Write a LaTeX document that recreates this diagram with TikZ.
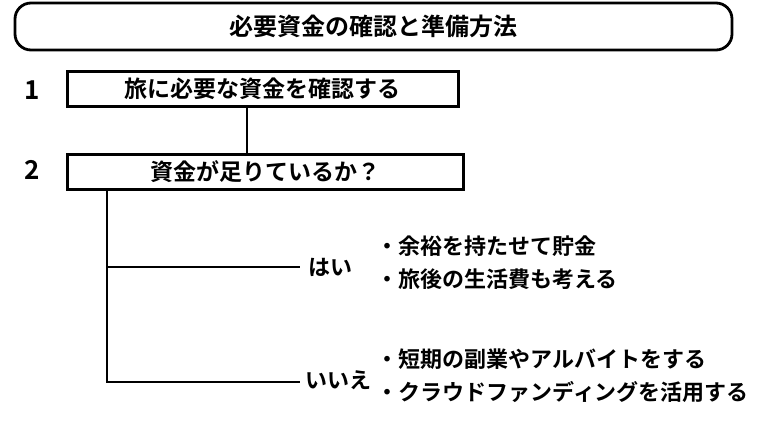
\documentclass[tikz,border=0pt]{standalone}
\usepackage{fontspec}
\setmainfont{Noto Sans CJK JP}[BoldFont={Noto Sans CJK JP Bold}]
\begin{document}
\begin{tikzpicture}[x=1pt,y=-1pt,
  box/.style={draw,line width=2.8pt,minimum height=35pt,inner sep=0pt},
  txt/.style={font=\fontsize{23}{26}\selectfont\bfseries},
  btxt/.style={font=\fontsize{22}{26}\selectfont\bfseries},
  ln/.style={line width=2.8pt}]
\useasboundingbox (0,0) rectangle (760,428);
\node[box,rounded corners=16pt,minimum width=717pt,minimum height=47pt,font=\fontsize{24}{26}\selectfont\bfseries] (t) at (373.5,26.5) {必要資金の確認と準備方法};
\node[box,minimum width=391pt,txt,anchor=north west] (b1) at (66,70) {旅に必要な資金を確認する};
\node[box,minimum width=396pt,txt,anchor=north west] (b2) at (66,153) {資金が足りているか？};
\node[font=\fontsize{26}{28}\selectfont\bfseries] (n1) at (32,90) {1};
\node[font=\fontsize{26}{28}\selectfont\bfseries] (n2) at (32,170) {2};
\draw[ln] (b1.south -| 247,0) -- (b2.north -| 247,0);
\coordinate (v) at (107,188);
\coordinate (h1) at (107,267);
\coordinate (h2) at (107,382);
\node[btxt] (yes) at (330,267) {はい};
\node[btxt] (no) at (338,380) {いいえ};
\draw[ln] (b2.south -| v) -- (h2) -- (300,382);
\draw[ln] (h1) -- (300,267);
\node[btxt,anchor=west] (ya) at (373,246) {・余裕を持たせて貯金};
\node[btxt,anchor=west] (yb) at (373,279) {・旅後の生活費も考える};
\node[btxt,anchor=west] (na) at (373,359) {・短期の副業やアルバイトをする};
\node[btxt,anchor=west] (nb) at (373,392) {・クラウドファンディングを活用する};
\end{tikzpicture}
\end{document}
